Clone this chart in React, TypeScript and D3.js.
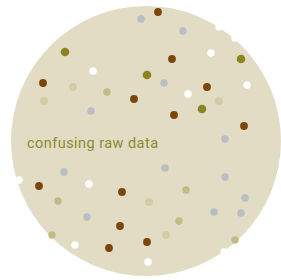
import React, { useEffect, useRef } from "react";
import * as d3 from "d3";

// dot positions (x, y in plot units)
const brownDots = [
  [158, 12], [43, 83], [134, 99], [172, 59], [207, 87], [174, 115], [244, 126],
  [39, 186], [122, 192], [120, 226], [109, 248], [147, 242],
];
const oliveDots = [[65, 52], [241, 59], [147, 75], [202, 109]];
const greyDots = [
  [141, 19], [183, 31], [91, 111], [164, 83], [225, 139], [64, 172], [87, 217],
  [165, 168], [225, 177], [245, 198], [214, 212], [241, 213],
];
const whiteDots = [
  [93, 71], [219, 27], [235, 38], [211, 53], [247, 85], [188, 94], [19, 180],
  [89, 184], [75, 245], [224, 252], [148, 262],
];
const lightTanDots = [[73, 87], [44, 101], [219, 101], [149, 202], [166, 235]];
const tanDots = [[107, 92], [58, 201], [52, 235], [186, 190], [179, 221], [235, 240]];

const label = "confusing raw data";

const groups = [
  { dots: lightTanDots, color: "#d3cba5", r: 3.9 },
  { dots: tanDots, color: "#c3ba85", r: 3.7 },
  { dots: greyDots, color: "#b9bec3", r: 3.7 },
  { dots: whiteDots, color: "#ffffff", r: 3.7 },
  { dots: brownDots, color: "#7a4609", r: 3.9 },
  { dots: oliveDots, color: "#8b8521", r: 4.3 },
];

const App = () => {
  const svgRef = useRef(null);

  useEffect(() => {
    const width = 281;
    const height = 280;

    const svg = d3.select(svgRef.current);
    svg.selectAll("*").remove();
    svg.attr("width", width).attr("height", height);

    const x = d3.scaleLinear().domain([0, 281]).range([0, width]);
    const y = d3.scaleLinear().domain([0, 280]).range([0, height]);

    svg
      .append("circle")
      .attr("cx", x(146))
      .attr("cy", y(141))
      .attr("r", 135)
      .attr("fill", "#e2dcc5");

    groups.forEach((g) => {
      svg
        .append("g")
        .selectAll("circle")
        .data(g.dots)
        .enter()
        .append("circle")
        .attr("cx", (d) => x(d[0]))
        .attr("cy", (d) => y(d[1]))
        .attr("r", g.r)
        .attr("fill", g.color);
    });

    svg
      .append("text")
      .attr("x", x(27))
      .attr("y", y(148))
      .attr("font-family", "Roboto, sans-serif")
      .attr("font-size", 14.5)
      .attr("letter-spacing", 0.45)
      .attr("fill", "#8c8a2c")
      .text(label);
  }, []);

  return (
    <svg
      ref={svgRef}
      style={{ position: "absolute", left: 0, top: 0, display: "block" }}
    ></svg>
  );
};

export default App;
